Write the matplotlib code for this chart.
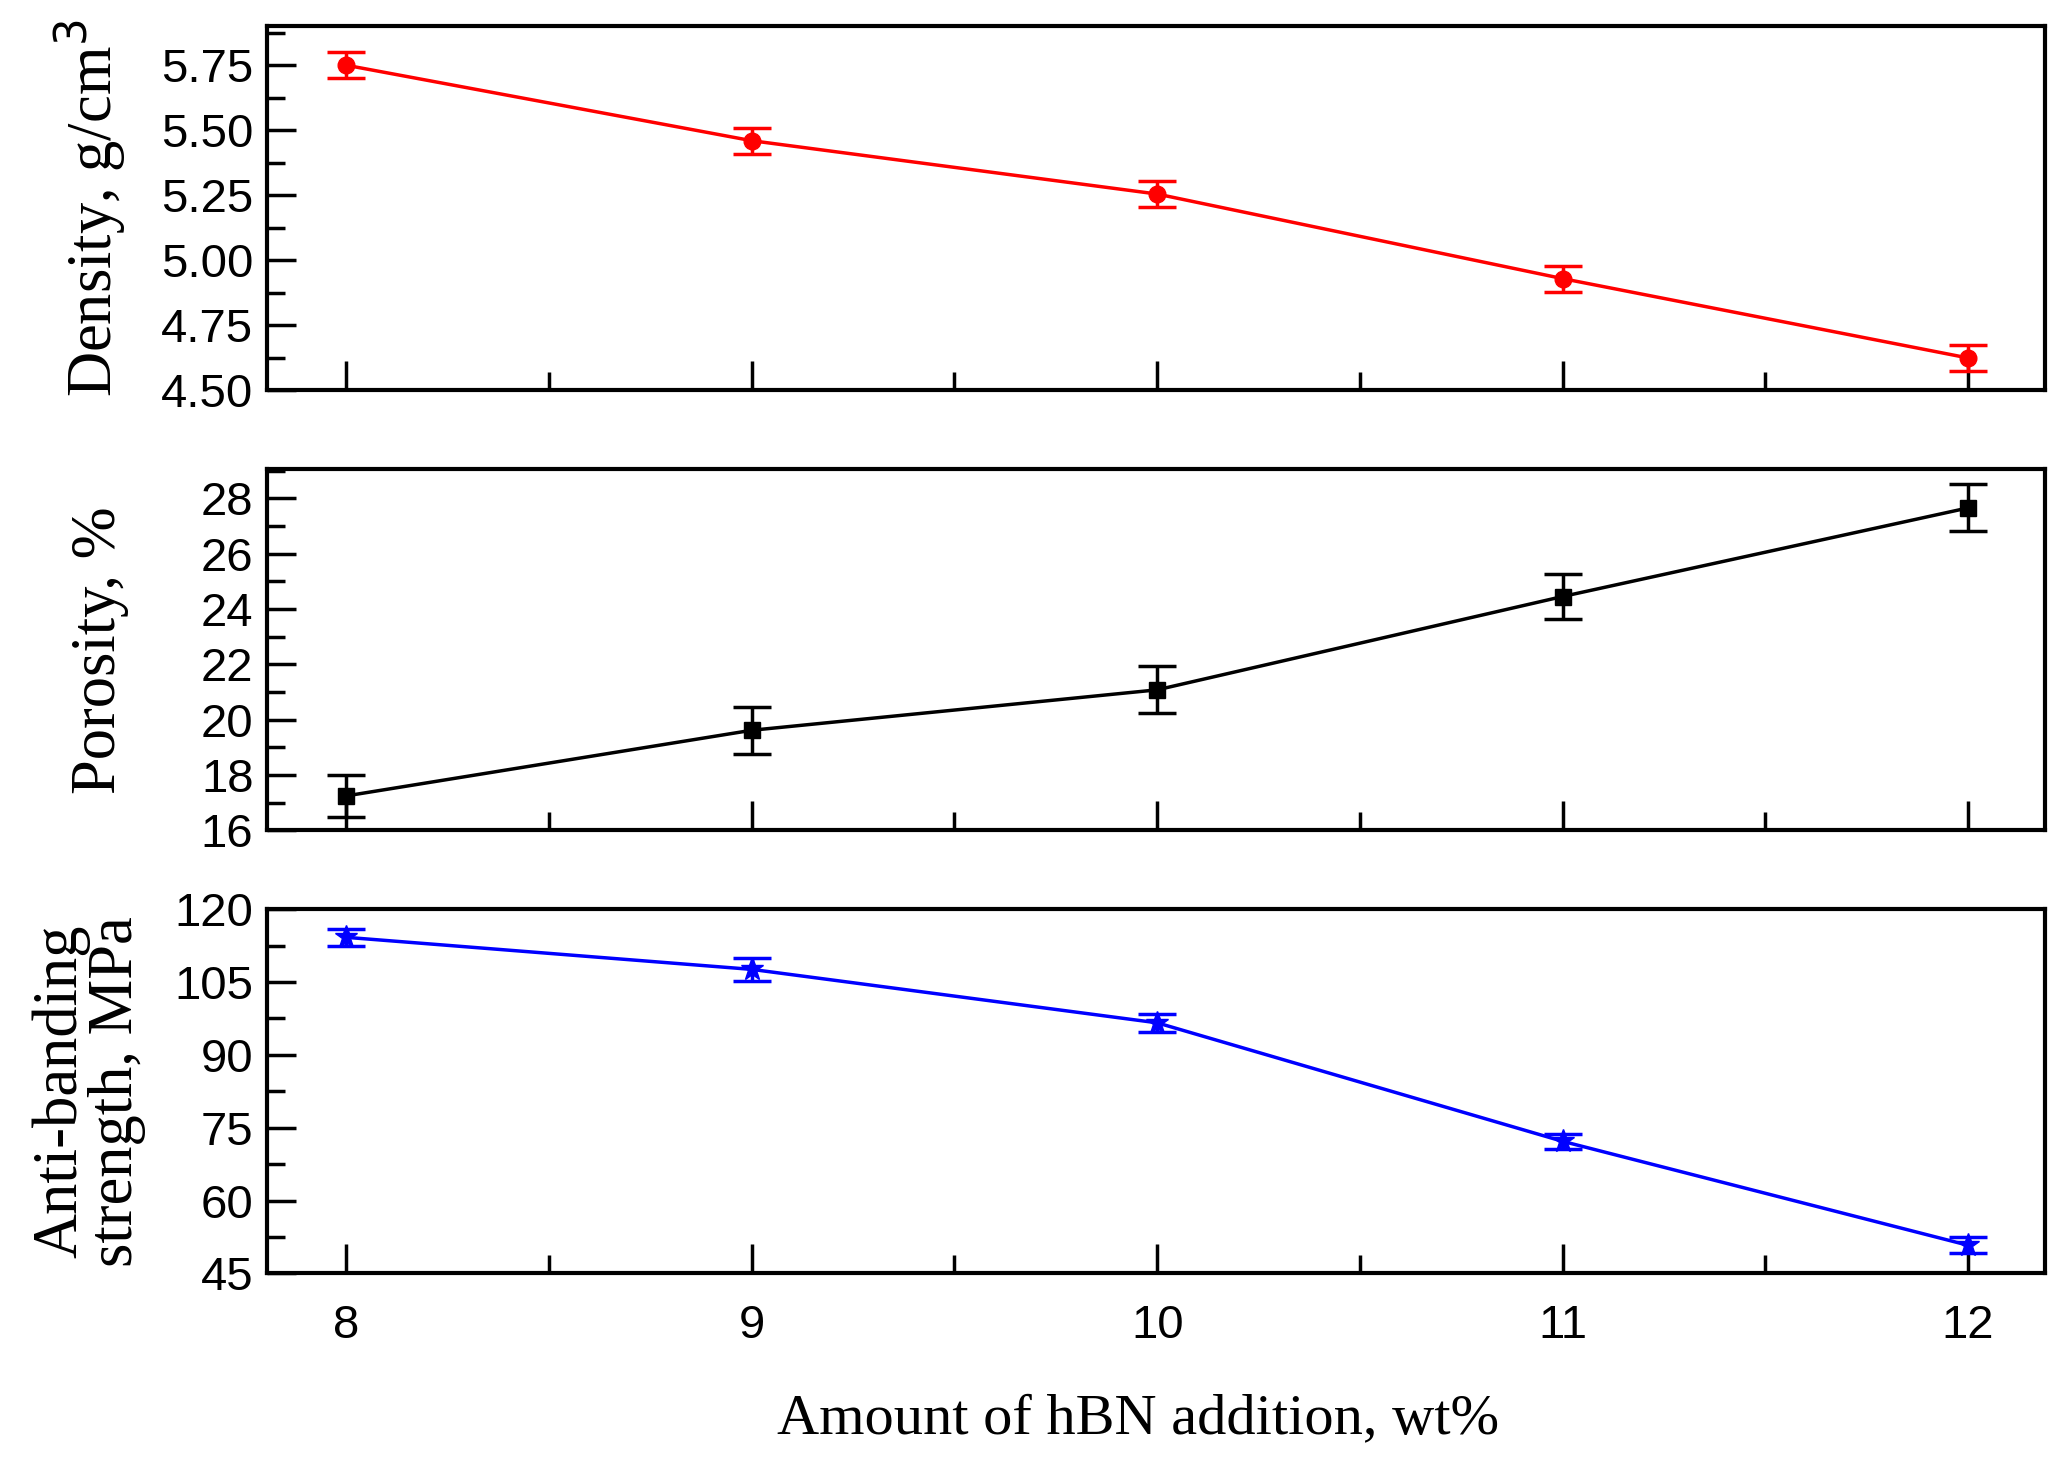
import matplotlib.pyplot as plt
from matplotlib.ticker import MultipleLocator

hbn = [8, 9, 10, 11, 12]

density = [5.75, 5.46, 5.255, 4.93, 4.625]
density_err = [0.05, 0.05, 0.05, 0.05, 0.05]

porosity = [17.25, 19.62, 21.08, 24.45, 27.65]
porosity_err = [0.75, 0.85, 0.85, 0.8, 0.85]

strength = [114.2, 107.6, 96.6, 72.2, 50.8]
strength_err = [1.8, 2.3, 1.8, 1.6, 1.6]

serif = "Liberation Serif"
sans = "Liberation Sans"

fig = plt.figure(figsize=(20.72, 14.57), dpi=100)
left, width = 0.129, 0.858
ax1 = fig.add_axes([left, 1 - 0.268, width, 0.250])
ax2 = fig.add_axes([left, 1 - 0.570, width, 0.248])
ax3 = fig.add_axes([left, 1 - 0.874, width, 0.250])

ax1.errorbar(hbn, density, yerr=density_err, color="red", marker="o", markersize=12,
             linewidth=2.5, capsize=14, capthick=2.5, elinewidth=2.5)
ax2.errorbar(hbn, porosity, yerr=porosity_err, color="black", marker="s", markersize=11,
             linewidth=2.5, capsize=14, capthick=2.5, elinewidth=2.5)
ax3.errorbar(hbn, strength, yerr=strength_err, color="blue", marker="*", markersize=17,
             linewidth=2.5, capsize=14, capthick=2.5, elinewidth=2.5)

ax1.set_ylim(4.5, 5.9)
ax1.yaxis.set_major_locator(MultipleLocator(0.25))
ax1.yaxis.set_minor_locator(MultipleLocator(0.125))
ax1.yaxis.set_major_formatter(plt.FormatStrFormatter("%.2f"))

ax2.set_ylim(16, 29.05)
ax2.yaxis.set_major_locator(MultipleLocator(2))
ax2.yaxis.set_minor_locator(MultipleLocator(1))

ax3.set_ylim(45, 120)
ax3.yaxis.set_major_locator(MultipleLocator(15))
ax3.yaxis.set_minor_locator(MultipleLocator(7.5))

for ax in (ax1, ax2, ax3):
    ax.set_xlim(7.805, 12.19)
    ax.xaxis.set_major_locator(MultipleLocator(1))
    ax.xaxis.set_minor_locator(MultipleLocator(0.5))
    for s in ax.spines.values():
        s.set_linewidth(3)
    ax.tick_params(which="major", direction="in", length=21, width=2.5,
                   labelsize=34, pad=10, top=False, right=False)
    ax.tick_params(which="minor", direction="in", length=13, width=2.5,
                   top=False, right=False)
    for lab in ax.get_yticklabels() + ax.get_xticklabels():
        lab.set_fontfamily(sans)

ax1.tick_params(axis="x", labelbottom=False)
ax2.tick_params(axis="x", labelbottom=False)
ax3.tick_params(axis="x", pad=22)

ax1.set_ylabel("Density, g/cm$^3$", family=serif, fontsize=45)
ax2.set_ylabel("Porosity, %", family=serif, fontsize=45)
ax3.set_ylabel("Anti-banding\nstrength, MPa", family=serif, fontsize=45, linespacing=0.95)
ax1.yaxis.set_label_coords(-0.078, 0.5)
ax2.yaxis.set_label_coords(-0.078, 0.5)
ax3.yaxis.set_label_coords(-0.068, 0.5)

ax3.set_xlabel("Amount of hBN addition, wt%", family=serif, fontsize=42)
ax3.xaxis.set_label_coords(0.49, -0.33)

fig.savefig("out.png", dpi=100)
